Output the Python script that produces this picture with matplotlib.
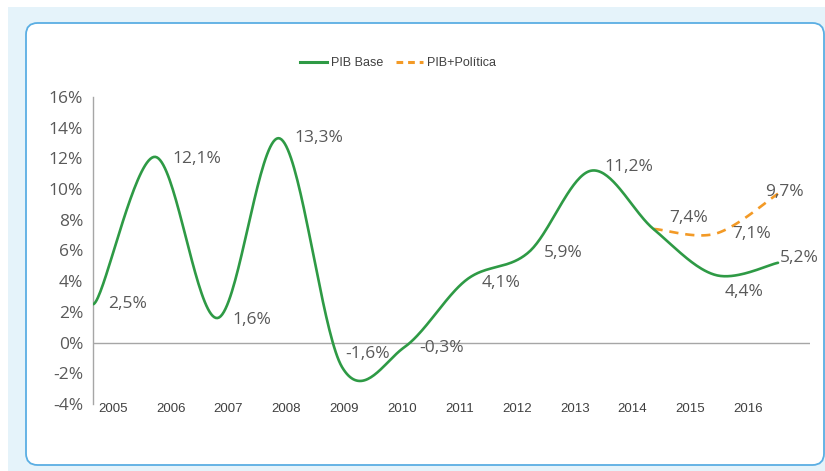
import numpy as np
import matplotlib
matplotlib.use("Agg")
import matplotlib.pyplot as plt
from matplotlib.patches import Rectangle, FancyBboxPatch
from matplotlib.lines import Line2D

# data
years = ["2005", "2006", "2007", "2008", "2009", "2010",
         "2011", "2012", "2013", "2014", "2015", "2016"]
pib_base = [2.5, 12.1, 1.6, 13.3, -1.6, -0.3, 4.1, 5.9, 11.2, 7.4, 4.4, 5.2]
pol_years = ["2014", "2015", "2016"]
pib_pol = [7.4, 7.1, 9.7]
yticks = [-4, -2, 0, 2, 4, 6, 8, 10, 12, 14, 16]

green = "#2e9a45"
orange = "#f39a26"
txt = "#595959"


def smooth(xs, ys, steps=40):
    # excel-like smoothed line (cubic bezier through the points)
    xs = np.asarray(xs, float)
    ys = np.asarray(ys, float)
    # flat start, open end
    px = np.concatenate([[xs[0] - (xs[1] - xs[0])], xs, [xs[-1]]])
    py = np.concatenate([[ys[1]], ys, [ys[-1]]])
    t = np.linspace(0, 1, steps)
    ox, oy = [], []
    for i in range(len(xs) - 1):
        x0, x1, x2, x3 = px[i:i + 4]
        y0, y1, y2, y3 = py[i:i + 4]
        cx1, cy1 = x1 + (x2 - x0) / 6, y1 + (y2 - y0) / 6
        cx2, cy2 = x2 - (x3 - x1) / 6, y2 - (y3 - y1) / 6
        if i == 0:
            cx1 = x1 + (x2 - x1) / 6
        a, b, c, d = (1 - t) ** 3, 3 * (1 - t) ** 2 * t, 3 * (1 - t) * t ** 2, t ** 3
        ox.append(a * x1 + b * cx1 + c * cx2 + d * x2)
        oy.append(a * y1 + b * cy1 + c * cy2 + d * y2)
    return np.concatenate(ox), np.concatenate(oy)


W, H = 825, 471
fig = plt.figure(figsize=(W / 100, H / 100), dpi=100)
fig.patch.set_facecolor("white")

# light blue panel + rounded white card
fig.patches.append(Rectangle((8 / W, 0), 1, 1 - 7 / H, transform=fig.transFigure,
                             facecolor="#e5f3fa", edgecolor="none", zorder=-10))
fig.patches.append(FancyBboxPatch((26 / W, (H - 465) / H), (824 - 26) / W, (465 - 23) / H,
                                  boxstyle="round,pad=0,rounding_size=0.014",
                                  transform=fig.transFigure, facecolor="white",
                                  edgecolor="#5aaee3", linewidth=1.3, zorder=-9,
                                  mutation_aspect=W / H))

ax = fig.add_axes([93 / W, 1 - 404 / H, (810 - 93) / W, (404 - 97) / H])
ax.set_facecolor("none")

xb = np.arange(len(years))
xp = np.array([years.index(y) for y in pol_years])

sx, sy = smooth(xb, pib_base)
ax.plot(sx, sy, color=green, lw=1.9, solid_capstyle="round", zorder=3)
sx2, sy2 = smooth(xp, pib_pol)
ax.plot(sx2, sy2, color=orange, lw=1.9, dashes=(3.5, 2.6), zorder=2)

ax.axhline(0, color="#a6a6a6", lw=1, zorder=1)

step = (778 - 93) / (len(years) - 1)
ax.set_xlim(0, (810 - 93) / step)
ax.set_ylim(-4, 16)

for s in ["top", "right", "bottom"]:
    ax.spines[s].set_visible(False)
ax.spines["left"].set_color("#a6a6a6")
ax.spines["left"].set_linewidth(1)

ax.set_yticks(yticks)
ax.set_yticklabels([f"{v}%" for v in yticks], family="Open Sans", fontsize=12.5, color=txt)
ax.set_xticks(np.linspace((113 - 93) / step, (748 - 93) / step, len(years)))
ax.set_xticklabels(years, family="Liberation Sans", fontsize=9.5, color="#404040")
ax.tick_params(axis="y", length=0, pad=7)
ax.tick_params(axis="x", length=0, pad=-1)


def lab(v):
    return f"{v:.1f}".replace(".", ",") + "%"


# label offsets in pixels (dx, dy up)
base_off = [(15, 0), (17, -2), (15, -2), (15, 0), (3, 13), (15, -1),
            (15, -3), (15, -1), (13, 4), (16, 11), (9, -17), (2, 5)]
for x, v, (dx, dy) in zip(xb, pib_base, base_off):
    ax.annotate(lab(v), (x, v), xytext=(dx, dy), textcoords="offset pixels",
                ha="left", va="center", family="Open Sans", fontsize=12.5, color=txt)

pol_off = [None, (17, 0), (-13, 2)]
for x, v, off in zip(xp, pib_pol, pol_off):
    if off is None:
        continue
    ax.annotate(lab(v), (x, v), xytext=off, textcoords="offset pixels",
                ha="left", va="center", family="Open Sans", fontsize=12.5, color=txt)

handles = [Line2D([], [], color=green, lw=2.2),
           Line2D([], [], color=orange, lw=2.2, dashes=(2.2, 1.6))]
fig.legend(handles, ["PIB Base", "PIB+Política"], loc="center",
           bbox_to_anchor=(398 / W, 1 - 63 / H), ncol=2, frameon=False,
           prop={"family": "Liberation Sans", "size": 9}, labelcolor="#404040",
           handlelength=2.2, handletextpad=0.3, columnspacing=1.0)

fig.savefig("out.png", dpi=100)
